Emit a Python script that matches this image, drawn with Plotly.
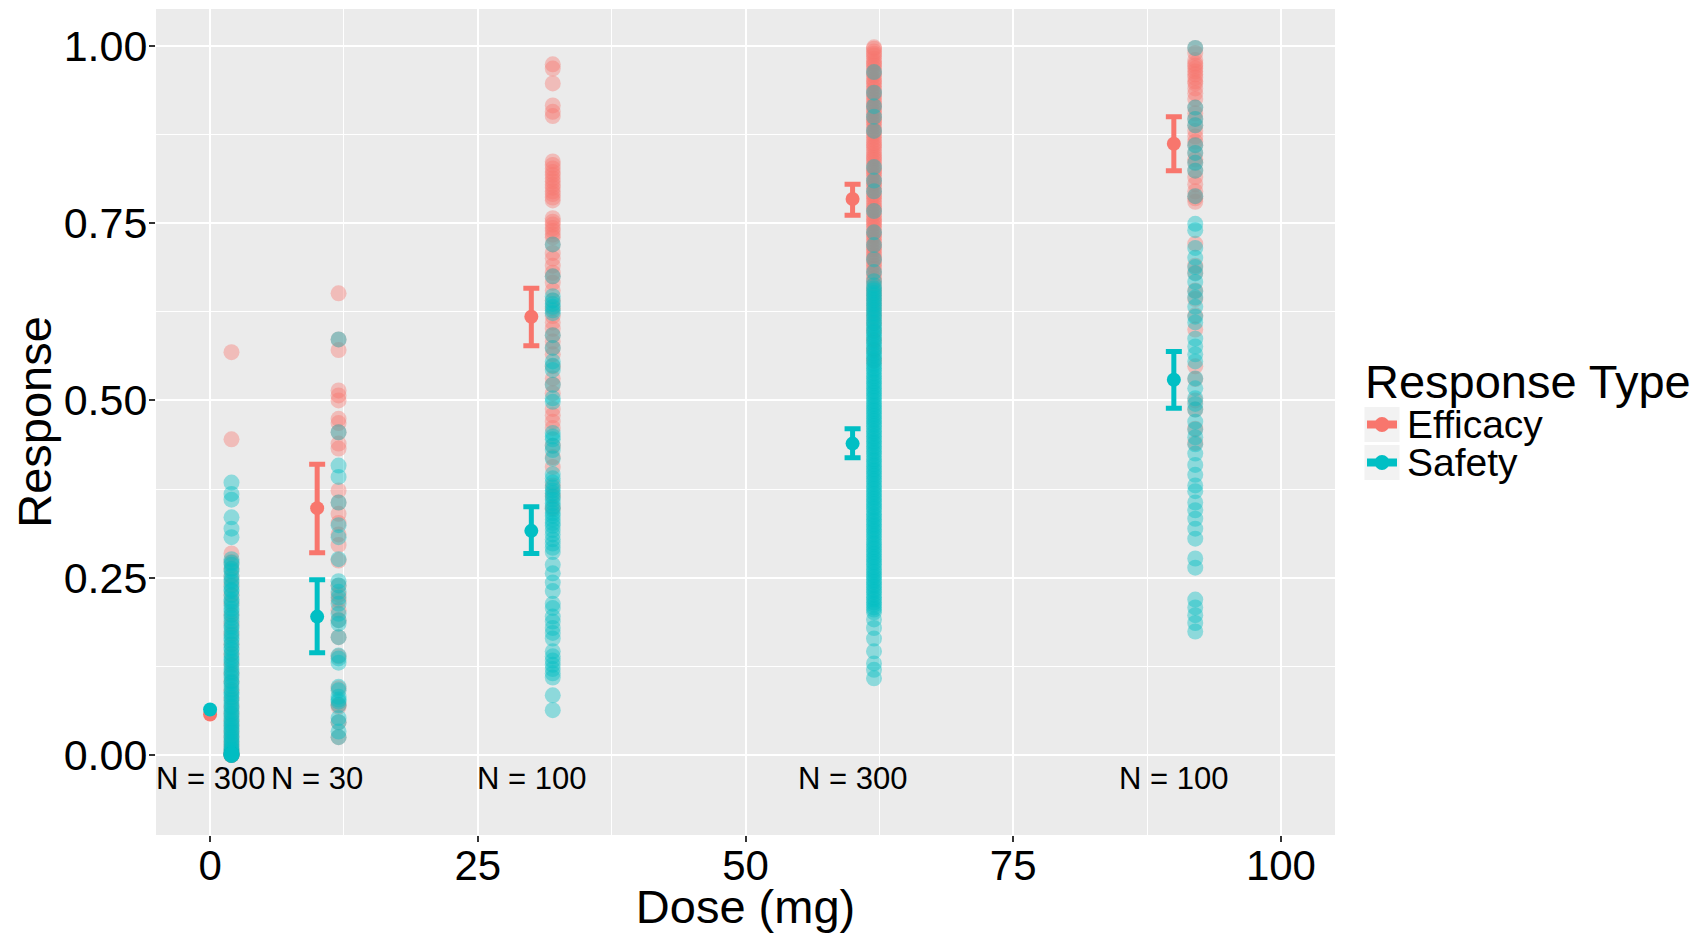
import plotly.graph_objects as go

# ---------------- data ----------------
doses = [0, 10, 30, 60, 90]
n_counts = [300, 30, 100, 300, 100]
response_types = ["Efficacy", "Safety"]

# means and 95% limits (None = interval hidden behind the point)
eff_mean = [0.057, 0.348, 0.618, 0.784, 0.862]
eff_lo = [None, 0.285, 0.577, 0.761, 0.824]
eff_hi = [None, 0.410, 0.658, 0.805, 0.900]

saf_mean = [0.064, 0.195, 0.316, 0.439, 0.529]
saf_lo = [None, 0.144, 0.284, 0.419, 0.489]
saf_hi = [None, 0.247, 0.350, 0.460, 0.569]

eff_d0 = [0.568, 0.445, 0.284, 0.272, 0.263, 0.251, 0.240, 0.226, 0.214, 0.198, 0.185, 0.171,
          0.156, 0.142, 0.128, 0.115, 0.103, 0.091, 0.079, 0.068, 0.058, 0.049, 0.041, 0.033,
          0.026, 0.019, 0.013, 0.008, 0.004, 0.001, 0.0, 0.0, 0.0, 0.0, 0.0]
saf_d0 = [0.384, 0.368, 0.360, 0.335, 0.319, 0.307, 0.276, 0.271, 0.268, 0.262, 0.259, 0.253,
          0.247, 0.244, 0.238, 0.233, 0.231, 0.225, 0.219, 0.216, 0.211, 0.206, 0.202, 0.197,
          0.193, 0.188, 0.182, 0.179, 0.174, 0.169, 0.165, 0.161, 0.156, 0.151, 0.148, 0.143,
          0.138, 0.134, 0.131, 0.126, 0.121, 0.117, 0.113, 0.109, 0.104, 0.101, 0.097, 0.092,
          0.088, 0.085, 0.081, 0.077, 0.073, 0.069, 0.066, 0.062, 0.058, 0.055, 0.051, 0.047,
          0.044, 0.041, 0.037, 0.034, 0.031, 0.027, 0.024, 0.021, 0.018, 0.015, 0.012, 0.009,
          0.007, 0.005, 0.003, 0.002, 0.001, 0.0, 0.0, 0.0, 0.0, 0.0]

eff_d10 = [0.651, 0.586, 0.571, 0.514, 0.507, 0.500, 0.474, 0.468, 0.455, 0.439, 0.432, 0.373,
           0.356, 0.340, 0.327, 0.311, 0.296, 0.274, 0.239, 0.226, 0.218, 0.204, 0.190, 0.166,
           0.139, 0.094, 0.071, 0.068, 0.046, 0.025]
saf_d10 = [0.586, 0.455, 0.408, 0.392, 0.356, 0.324, 0.307, 0.276, 0.245, 0.239, 0.230, 0.222,
           0.213, 0.199, 0.190, 0.185, 0.166, 0.140, 0.136, 0.130, 0.096, 0.091, 0.082, 0.078,
           0.075, 0.070, 0.052, 0.046, 0.033, 0.025]

eff_d30 = [0.974, 0.968, 0.947, 0.916, 0.907, 0.901, 0.837, 0.832, 0.827, 0.822, 0.818, 0.813,
           0.809, 0.804, 0.800, 0.795, 0.791, 0.786, 0.782, 0.757, 0.752, 0.748, 0.743, 0.739,
           0.734, 0.730, 0.720, 0.708, 0.700, 0.690, 0.680, 0.675, 0.666, 0.655, 0.641, 0.630,
           0.619, 0.610, 0.601, 0.592, 0.583, 0.574, 0.565, 0.548, 0.531, 0.522, 0.510, 0.488,
           0.479, 0.470, 0.461, 0.436, 0.420, 0.406, 0.380, 0.366, 0.348]
saf_d30 = [0.720, 0.675, 0.647, 0.641, 0.636, 0.632, 0.627, 0.623, 0.592, 0.574, 0.555, 0.549,
           0.543, 0.522, 0.503, 0.498, 0.454, 0.449, 0.445, 0.436, 0.430, 0.418, 0.396, 0.390,
           0.384, 0.377, 0.373, 0.369, 0.364, 0.360, 0.355, 0.350, 0.346, 0.341, 0.337, 0.332,
           0.327, 0.323, 0.317, 0.311, 0.304, 0.298, 0.292, 0.286, 0.268, 0.256, 0.243, 0.231,
           0.213, 0.207, 0.195, 0.188, 0.179, 0.172, 0.164, 0.146, 0.139, 0.133, 0.127, 0.121,
           0.115, 0.109, 0.084, 0.063]

eff_d60 = [0.998, 0.996, 0.992, 0.989, 0.986, 0.982, 0.978, 0.975, 0.972, 0.968, 0.964, 0.961,
           0.958, 0.953, 0.950, 0.947, 0.943, 0.939, 0.935, 0.932, 0.929, 0.925, 0.921, 0.917,
           0.914, 0.911, 0.907, 0.903, 0.899, 0.896, 0.893, 0.889, 0.885, 0.881, 0.878, 0.875,
           0.871, 0.867, 0.863, 0.860, 0.857, 0.853, 0.849, 0.845, 0.842, 0.839, 0.835, 0.831,
           0.827, 0.824, 0.821, 0.817, 0.813, 0.809, 0.806, 0.803, 0.799, 0.795, 0.791, 0.788,
           0.785, 0.781, 0.777, 0.773, 0.770, 0.767, 0.763, 0.759, 0.755, 0.752, 0.749, 0.745,
           0.741, 0.737, 0.734, 0.731, 0.727, 0.723, 0.719, 0.716, 0.713, 0.709, 0.705, 0.701,
           0.698, 0.694, 0.690, 0.686, 0.681, 0.677, 0.672, 0.668, 0.663, 0.657, 0.652, 0.646,
           0.640, 0.633, 0.626, 0.618, 0.609, 0.598, 0.585, 0.571, 0.556]
saf_d60 = [0.963, 0.934, 0.915, 0.900, 0.880, 0.829, 0.810, 0.795, 0.767, 0.737, 0.719, 0.699,
           0.681, 0.668, 0.662, 0.658, 0.655, 0.651, 0.648, 0.644, 0.641, 0.637, 0.634, 0.630,
           0.627, 0.623, 0.620, 0.616, 0.612, 0.609, 0.605, 0.602, 0.598, 0.595, 0.591, 0.588,
           0.584, 0.581, 0.577, 0.573, 0.570, 0.566, 0.563, 0.559, 0.556, 0.552, 0.549, 0.545,
           0.542, 0.538, 0.534, 0.531, 0.527, 0.524, 0.520, 0.517, 0.513, 0.510, 0.506, 0.503,
           0.499, 0.495, 0.492, 0.488, 0.485, 0.481, 0.478, 0.474, 0.471, 0.467, 0.464, 0.460,
           0.456, 0.453, 0.449, 0.446, 0.442, 0.439, 0.435, 0.432, 0.428, 0.425, 0.421, 0.417,
           0.414, 0.410, 0.407, 0.403, 0.400, 0.396, 0.393, 0.389, 0.386, 0.382, 0.378, 0.375,
           0.371, 0.368, 0.364, 0.361, 0.357, 0.354, 0.350, 0.347, 0.343, 0.339, 0.336, 0.332,
           0.329, 0.325, 0.322, 0.318, 0.315, 0.311, 0.308, 0.304, 0.300, 0.297, 0.293, 0.290,
           0.286, 0.283, 0.279, 0.276, 0.272, 0.269, 0.265, 0.261, 0.258, 0.254, 0.251, 0.247,
           0.244, 0.240, 0.237, 0.233, 0.230, 0.226, 0.222, 0.219, 0.215, 0.212, 0.208, 0.205,
           0.201, 0.191, 0.179, 0.164, 0.146, 0.129, 0.120, 0.108]

eff_d90 = [0.997, 0.990, 0.980, 0.975, 0.972, 0.968, 0.964, 0.960, 0.955, 0.950, 0.947, 0.940,
           0.933, 0.925, 0.913, 0.905, 0.897, 0.888, 0.880, 0.872, 0.865, 0.860, 0.849, 0.840,
           0.835, 0.824, 0.815, 0.805, 0.795, 0.788, 0.785, 0.780, 0.721, 0.690, 0.680, 0.655,
           0.643, 0.620, 0.600, 0.548, 0.530, 0.500, 0.487, 0.460, 0.440]
saf_d90 = [0.997, 0.913, 0.897, 0.888, 0.860, 0.849, 0.835, 0.824, 0.788, 0.749, 0.740, 0.715,
           0.701, 0.688, 0.679, 0.667, 0.654, 0.645, 0.632, 0.618, 0.610, 0.587, 0.576, 0.565,
           0.555, 0.531, 0.517, 0.503, 0.495, 0.487, 0.470, 0.459, 0.448, 0.438, 0.425, 0.409,
           0.395, 0.380, 0.372, 0.356, 0.345, 0.333, 0.319, 0.305, 0.277, 0.264, 0.219, 0.208,
           0.197, 0.186, 0.174]

eff_raw = [eff_d0, eff_d10, eff_d30, eff_d60, eff_d90]
saf_raw = [saf_d0, saf_d10, saf_d30, saf_d60, saf_d90]

# ---------------- style / layout ----------------
RED = "#F8766D"
TEAL = "#00BFC4"
FONT = "Liberation Sans"
RAW_OFFSET = 2  # raw observations drawn slightly right of the dose

# page has an 8px body margin
W, H = 1689, 925
ML, MR, MT, MB = 148, 362, 1, 98
PLOT_W = W - ML - MR
PLOT_H = H - MT - MB


def px(page_x):
    return (page_x - 8 - ML) / PLOT_W


def py(page_y):
    return (H - MB - (page_y - 8)) / PLOT_H


fig = go.Figure()


def raw_xy(groups):
    xs, ys = [], []
    for d, vals in zip(doses, groups):
        xs += [d + RAW_OFFSET] * len(vals)
        ys += vals
    return xs, ys


for groups, col in [(eff_raw, RED), (saf_raw, TEAL)]:
    xs, ys = raw_xy(groups)
    fig.add_trace(go.Scatter(
        x=xs, y=ys, mode="markers", showlegend=False, hoverinfo="skip",
        marker=dict(color=col, size=16, opacity=0.4, line=dict(width=0)),
    ))

for name, m, lo, hi, col in [(response_types[0], eff_mean, eff_lo, eff_hi, RED),
                             (response_types[1], saf_mean, saf_lo, saf_hi, TEAL)]:
    idx = [i for i in range(len(doses)) if lo[i] is not None]
    # interval bars
    fig.add_trace(go.Scatter(
        x=[doses[i] for i in idx], y=[m[i] for i in idx], mode="markers",
        name=name, showlegend=False, hoverinfo="skip",
        marker=dict(color=col, size=1, opacity=0),
        error_y=dict(type="data", symmetric=False,
                     array=[hi[i] - m[i] for i in idx],
                     arrayminus=[m[i] - lo[i] for i in idx],
                     color=col, thickness=5, width=8),
    ))
    # mean points
    fig.add_trace(go.Scatter(
        x=doses, y=m, mode="markers", name=name, showlegend=False,
        marker=dict(color=col, size=14),
    ))

for d, n in zip(doses, n_counts):
    fig.add_annotation(x=d, y=-0.034, text=f"N = {n}", showarrow=False,
                       xanchor="center", yanchor="middle",
                       font=dict(family=FONT, size=31, color="black"))

# ---- legend (drawn as a ggplot-style key) ----
fig.add_annotation(xref="paper", yref="paper", x=px(1363), y=py(381),
                   text="Response Type", showarrow=False, xanchor="left", yanchor="middle",
                   font=dict(family=FONT, size=47, color="black"))
for i, (name, col) in enumerate(zip(response_types, [RED, TEAL])):
    top = 407 + 38 * i
    cy = top + 17.5
    fig.add_shape(type="rect", xref="paper", yref="paper",
                  x0=px(1364.5), x1=px(1399.5), y0=py(top + 35), y1=py(top),
                  fillcolor="#F2F2F2", line=dict(width=0), layer="above")
    fig.add_shape(type="line", xref="paper", yref="paper",
                  x0=px(1367), x1=px(1397), y0=py(cy), y1=py(cy),
                  line=dict(color=col, width=8), layer="above")
    fig.add_shape(type="circle", xref="paper", yref="paper",
                  xsizemode="pixel", ysizemode="pixel",
                  xanchor=px(1382), yanchor=py(cy), x0=-7.5, x1=7.5, y0=-7.5, y1=7.5,
                  fillcolor=col, line=dict(width=0), layer="above")
    fig.add_annotation(xref="paper", yref="paper", x=px(1405), y=py(cy - 0.5),
                       text=name, showarrow=False, xanchor="left", yanchor="middle",
                       font=dict(family=FONT, size=39, color="black"))

fig.update_layout(
    width=W, height=H,
    margin=dict(l=ML, r=MR, t=MT, b=MB, autoexpand=False),
    paper_bgcolor="white", plot_bgcolor="#EBEBEB",
    font=dict(family=FONT, color="black"),
    showlegend=False,
    xaxis=dict(
        range=[-5.05, 105.05], tick0=0, dtick=25, automargin=False,
        ticks="outside", ticklen=6, tickwidth=1.5, tickcolor="#333333",
        ticklabelstandoff=-12,
        tickfont=dict(family=FONT, size=42, color="black"),
        showgrid=True, gridcolor="white", gridwidth=2, zeroline=False, showline=False,
        minor=dict(showgrid=True, gridcolor="white", gridwidth=1, tick0=0, dtick=12.5),
        title=dict(text="Dose (mg)", font=dict(family=FONT, size=47, color="black"), standoff=9),
    ),
    yaxis=dict(
        range=[-0.113, 1.052], tick0=0, dtick=0.25, tickformat=".2f", automargin=False,
        ticks="outside", ticklen=6, tickwidth=1.5, tickcolor="#333333",
        ticklabelstandoff=-7,
        tickfont=dict(family=FONT, size=43, color="black"),
        showgrid=True, gridcolor="white", gridwidth=2, zeroline=False, showline=False,
        minor=dict(showgrid=True, gridcolor="white", gridwidth=1, tick0=0, dtick=0.125),
        title=dict(text="Response", font=dict(family=FONT, size=47, color="black"), standoff=6),
    ),
)

fig.write_html("out.html")
